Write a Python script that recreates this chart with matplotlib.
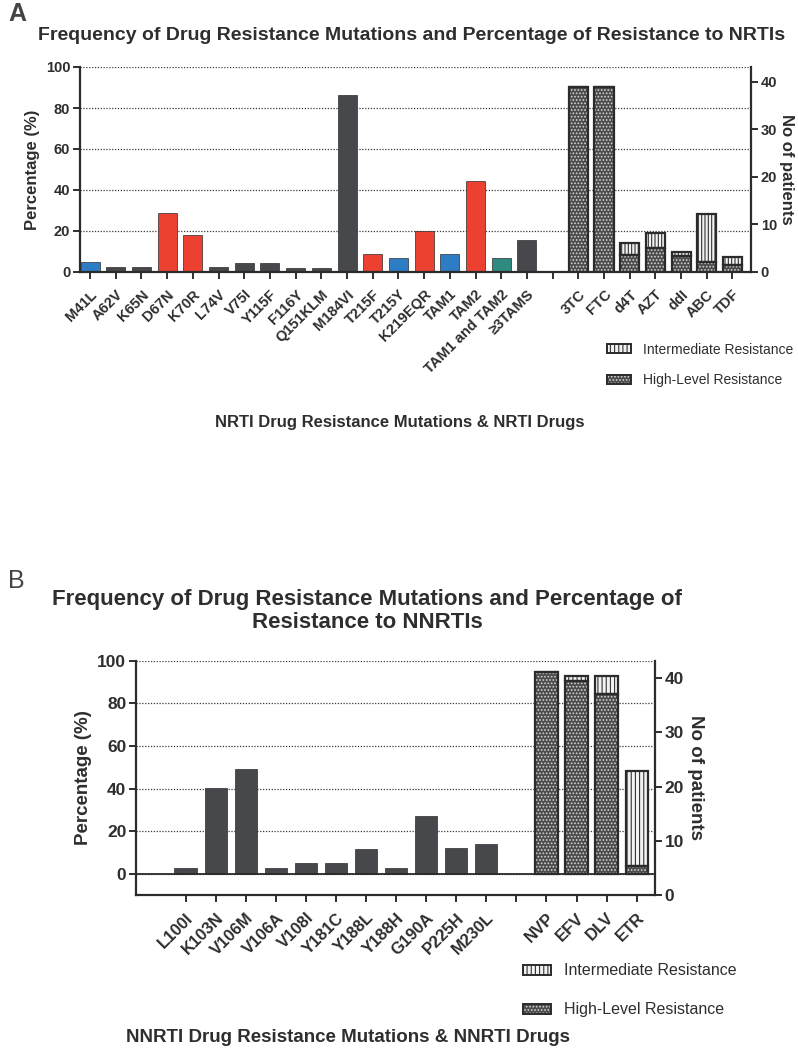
import matplotlib
matplotlib.use('Agg')
import matplotlib.pyplot as plt
from matplotlib.patches import Patch

plt.rcParams['font.family'] = ['Liberation Sans', 'DejaVu Sans']
plt.rcParams['hatch.linewidth'] = 0.8
plt.rcParams['text.color'] = '#2e2e2e'
plt.rcParams['axes.labelcolor'] = '#2e2e2e'
plt.rcParams['xtick.color'] = '#2e2e2e'
plt.rcParams['ytick.color'] = '#2e2e2e'

# ---- panel A : NRTI ----
nrti_mut = ['M41L', 'A62V', 'K65N', 'D67N', 'K70R', 'L74V', 'V75I', 'Y115F',
            'F116Y', 'Q151KLM', 'M184VI', 'T215F', 'T215Y', 'K219EQR',
            'TAM1', 'TAM2', 'TAM1 and TAM2', '≥3TAMS']
nrti_pct = [5, 2.5, 2.5, 29, 18, 2.5, 4.5, 4.5, 2, 2, 86.5, 9, 6.7, 20,
            8.8, 44.4, 6.7, 15.6]
nrti_grp = ['tam1', 'other', 'other', 'tam2', 'tam2', 'other', 'other', 'other',
            'other', 'other', 'other', 'tam2', 'tam1', 'tam2',
            'tam1', 'tam2', 'both', 'other']
nrti_drugs = ['3TC', 'FTC', 'd4T', 'AZT', 'ddI', 'ABC', 'TDF']
nrti_high = [39, 39, 3.5, 5, 3.3, 2.2, 1.5]      # no of patients
nrti_inter = [0, 0, 2.7, 3.3, 1, 10, 1.6]

# ---- panel B : NNRTI ----
nnrti_mut = ['L100I', 'K103N', 'V106M', 'V106A', 'V108I', 'Y181C', 'Y188L',
             'Y188H', 'G190A', 'P225H', 'M230L']
nnrti_pct = [3, 40.5, 49.3, 3, 5, 5, 11.7, 3, 27.3, 12, 14]
nnrti_drugs = ['NVP', 'EFV', 'DLV', 'ETR']
nnrti_high = [41.1, 39.4, 37.1, 5.4]             # read on right axis
nnrti_inter = [0, 1.0, 3.3, 17.5]

grp_colors = {'tam1': '#2d7cc4', 'tam2': '#ec4131', 'both': '#2f8a7f', 'other': '#46484c'}
dark = '#2b2b2b'
high_face, high_hatch = '#4c4c4c', '#d4d4d4'
int_face, int_hatch = '#f2f2f2', '#333333'

W, H = 798, 1050
fig = plt.figure(figsize=(W / 100, H / 100), dpi=100)


def panel(rect, muts, pcts, colors, drugs, high, inter, ylo, xlo, xhi, rtop,
          fs_x, fs_y, fs_lab, rpad, int_h, bw):
    ax = fig.add_axes([rect[0] / W, 1 - rect[3] / H, (rect[2] - rect[0]) / W,
                       (rect[3] - rect[1]) / H])
    ax2 = ax.twinx()
    nm = len(muts)
    xm = list(range(nm))
    xd = [nm + 1 + i for i in range(len(drugs))]

    ax.set_xlim(xlo, xhi)
    ax.set_ylim(ylo, 100)
    ax2.set_ylim(0, rtop)

    ax.set_axisbelow(True)
    ax.yaxis.grid(True, linestyle=(0, (1, 1.3)), color='#3a3a3a', linewidth=0.9)
    ax.bar(xm, pcts, width=bw, color=colors, edgecolor=dark, linewidth=0.5, zorder=2)
    ax.axhline(0, color=dark, linewidth=1.3, zorder=3)

    # drug bars start where the left axis is 0
    base = ax2.transData.inverted().transform(ax.transData.transform((0, 0)))[1]
    hh = [h - base for h in high]
    ax2.bar(xd, hh, bottom=base, width=bw, color=high_face, hatch='.....',
            edgecolor=high_hatch, linewidth=0)
    ax2.bar(xd, inter, bottom=high, width=bw, color=int_face, hatch=int_h,
            edgecolor=int_hatch, linewidth=0)
    ax2.bar(xd, hh, bottom=base, width=bw, fill=False, edgecolor=dark, linewidth=1.6)
    ax2.bar(xd, inter, bottom=high, width=bw, fill=False, edgecolor=dark, linewidth=1.6)

    ax.set_xticks(xm + [nm] + xd)
    ax.set_xticklabels(muts + [''] + drugs, rotation=45, ha='right',
                       rotation_mode='anchor', fontweight='bold', fontsize=fs_x)
    ax.set_yticks([0, 20, 40, 60, 80, 100])
    ax2.set_yticks([0, 10, 20, 30, 40])
    for a in (ax, ax2):
        a.tick_params(axis='both', length=5, width=1.4, labelsize=fs_y, pad=2)
        for lab in a.get_yticklabels():
            lab.set_fontweight('bold')
    ax.tick_params(axis='x', pad=6, labelsize=fs_x)

    for s in ('top', 'right'):
        ax.spines[s].set_visible(False)
    for s in ('top', 'left', 'bottom'):
        ax2.spines[s].set_visible(False)
    for s in ('left', 'bottom'):
        ax.spines[s].set_linewidth(1.6)
        ax.spines[s].set_color(dark)
    ax2.spines['right'].set_linewidth(1.6)
    ax2.spines['right'].set_color(dark)

    ax.set_ylabel('Percentage (%)', fontweight='bold', fontsize=fs_lab, labelpad=4)
    ax2.set_ylabel('No of patients', fontweight='bold', fontsize=fs_lab,
                   rotation=270, va='bottom', labelpad=rpad)
    return ax


handles = [
    (Patch(facecolor=int_face, hatch='||||', edgecolor=int_hatch, linewidth=0),
     Patch(fill=False, edgecolor=dark, linewidth=1.4)),
    (Patch(facecolor=high_face, hatch='.....', edgecolor=high_hatch, linewidth=0),
     Patch(fill=False, edgecolor=dark, linewidth=1.4)),
]
labels = ['Intermediate Resistance', 'High-Level Resistance']

# panel A
mcol = [grp_colors[g] for g in nrti_grp]
axa = panel((80, 67, 751, 272), nrti_mut, nrti_pct, mcol, nrti_drugs,
            nrti_high, nrti_inter, 0, -0.39, 25.72, 43.1,
            10.5, 10.5, 12, 1, '|||||', 0.74)
fig.text(8 / W, 1 - 14 / H, 'A', fontsize=18, fontweight='bold', color='#444444', va='center')
fig.text(412 / W, 1 - 35 / H,
         'Frequency of Drug Resistance Mutations and Percentage of Resistance to NRTIs',
         ha='center', va='center', fontsize=14, fontweight='bold')
fig.text(400 / W, 1 - 423 / H, 'NRTI Drug Resistance Mutations & NRTI Drugs',
         ha='center', va='center', fontsize=12, fontweight='bold')
axa.legend(handles, labels, loc='upper left', bbox_to_anchor=(594 / W, 1 - 330 / H),
           bbox_transform=fig.transFigure, frameon=False, fontsize=10,
           handlelength=1.75, handleheight=0.6, labelspacing=1.2, handletextpad=0.85)

# panel B
axb = panel((136, 660.7, 655, 895), nnrti_mut, nnrti_pct, [grp_colors['other']] * len(nnrti_mut),
            nnrti_drugs, nnrti_high, nnrti_inter, -9.85, -1.65, 15.61, 43.2,
            12, 12.5, 13.5, 2, '||||', 0.74)
fig.text(8 / W, 1 - 581 / H, 'B', fontsize=18, color='#444444', va='center')
fig.text(367 / W, 1 - 611 / H,
         'Frequency of Drug Resistance Mutations and Percentage of\nResistance to NNRTIs',
         ha='center', va='center', fontsize=16, fontweight='bold', linespacing=1.15)
fig.text(348 / W, 1 - 1037 / H, 'NNRTI Drug Resistance Mutations & NNRTI Drugs',
         ha='center', va='center', fontsize=13.5, fontweight='bold')
axb.legend(handles, labels, loc='upper left', bbox_to_anchor=(509 / W, 1 - 949 / H),
           bbox_transform=fig.transFigure, frameon=False, fontsize=11.5,
           handlelength=1.75, handleheight=0.6, labelspacing=1.5, handletextpad=0.8)

fig.savefig('out.png', dpi=100, facecolor='white')
